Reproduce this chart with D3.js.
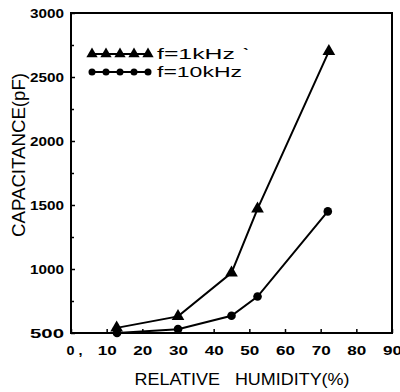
<!DOCTYPE html>
<html>
<head>
<meta charset="utf-8">
<script src="https://cdn.jsdelivr.net/npm/d3@7"></script>
<style>
  body { margin: 0; background: #fff; }
  svg { display: block; }
  text { font-family: "Liberation Sans", Arial, sans-serif; fill: #000; }
</style>
</head>
<body>
<div id="chart"></div>
<script>
// data
let humidity1k = [12.8, 30.0, 45.0, 52.3, 72.3];
let cap1k = [540, 630, 970, 1470, 2700];
let humidity10k = [12.9, 30.0, 45.0, 52.3, 72.0];
let cap10k = [500, 530, 635, 785, 1450];
let seriesNames = ["f=1kHz \u02cb", "f=10kHz"];
let xTicks = [0, 10, 20, 30, 40, 50, 60, 70, 80, 90];
let xTickLabels = ["0 ,", "10", "20", "30", "40", "50", "60", "70", "80", "90"];
let yTicks = [500, 1000, 1500, 2000, 2500, 3000];
let yMinorTicks = [750, 1250, 1750, 2250, 2750];

let svgWidth = 400;
let svgHeight = 392;

// plot area box
let margin = { top: 13, right: 8, bottom: 59, left: 71 };
let chartWidth = svgWidth - margin.left - margin.right;
let chartHeight = svgHeight - margin.top - margin.bottom;

let svg = d3.select("#chart")
    .append("svg")
    .attr("width", svgWidth)
    .attr("height", svgHeight);

let chartGroup = svg.append("g")
    .attr("transform", `translate(${margin.left}, ${margin.top})`);

let xScale = d3.scaleLinear().domain([0, 90]).range([0, chartWidth]);
let yScale = d3.scaleLinear().domain([500, 3000]).range([chartHeight, 0]);

// ticks point inward
let bottomAxis = d3.axisBottom(xScale)
    .tickValues(xTicks)
    .tickSizeInner(-4)
    .tickSizeOuter(0)
    .tickPadding(10)
    .tickFormat((d, i) => xTickLabels[i]);

let leftAxis = d3.axisLeft(yScale)
    .tickValues(yTicks)
    .tickSizeInner(-4)
    .tickSizeOuter(0)
    .tickPadding(7)
    .tickFormat(d3.format("d"));

let xAxis = chartGroup.append("g")
    .attr("transform", `translate(0, ${chartHeight})`)
    .call(bottomAxis);

let yAxis = chartGroup.append("g").call(leftAxis);

chartGroup.append("g")
    .call(d3.axisLeft(yScale).tickValues(yMinorTicks).tickSizeInner(-3).tickSizeOuter(0).tickFormat(""))
    .select(".domain").remove();

[xAxis, yAxis].forEach(a => {
    a.select(".domain").remove();
    a.selectAll("text")
        .style("font-size", "13px")
        .style("font-weight", "bold")
        .attr("fill", "#000");
});
chartGroup.selectAll("line").attr("stroke", "#000").attr("stroke-width", 1.5);

xAxis.selectAll("text")
    .attr("textLength", (d, i) => i === 0 ? 16 : 19)
    .attr("lengthAdjust", "spacingAndGlyphs")
    .attr("text-anchor", (d, i) => i === 0 ? "start" : "middle")
    .attr("x", (d, i) => i === 0 ? -5 : 0)
    .attr("dy", "0.9em");

yAxis.selectAll("text")
    .attr("textLength", 34)
    .attr("lengthAdjust", "spacingAndGlyphs");

// frame
chartGroup.append("rect")
    .attr("width", chartWidth)
    .attr("height", chartHeight)
    .attr("fill", "none")
    .attr("stroke", "#000")
    .attr("stroke-width", 2);

let line = d3.line()
    .x(d => xScale(d[0]))
    .y(d => yScale(d[1]));

let data1k = humidity1k.map((h, i) => [h, cap1k[i]]);
let data10k = humidity10k.map((h, i) => [h, cap10k[i]]);

chartGroup.append("path")
    .datum(data1k)
    .attr("d", line)
    .attr("fill", "none")
    .attr("stroke", "#000")
    .attr("stroke-width", 2);

chartGroup.append("path")
    .datum(data10k)
    .attr("d", line)
    .attr("fill", "none")
    .attr("stroke", "#000")
    .attr("stroke-width", 2);

let triangle = d3.symbol().type(d3.symbolTriangle).size(70);

chartGroup.selectAll(".tri")
    .data(data1k)
    .enter()
    .append("path")
    .attr("class", "tri")
    .attr("d", triangle)
    .attr("transform", d => `translate(${xScale(d[0])}, ${yScale(d[1])})`)
    .attr("fill", "#000");

chartGroup.selectAll(".dot")
    .data(data10k)
    .enter()
    .append("circle")
    .attr("class", "dot")
    .attr("cx", d => xScale(d[0]))
    .attr("cy", d => yScale(d[1]))
    .attr("r", 4.3)
    .attr("fill", "#000");

// legend
let legend = svg.append("g");
let legendX = [92, 106, 120, 134, 148];

legend.append("line")
    .attr("x1", 92).attr("x2", 148).attr("y1", 54).attr("y2", 54)
    .attr("stroke", "#000").attr("stroke-width", 2);
legend.selectAll(".ltri")
    .data(legendX)
    .enter()
    .append("path")
    .attr("d", d3.symbol().type(d3.symbolTriangle).size(55))
    .attr("transform", d => `translate(${d}, 54)`)
    .attr("fill", "#000");

legend.append("line")
    .attr("x1", 92).attr("x2", 148).attr("y1", 72).attr("y2", 72)
    .attr("stroke", "#000").attr("stroke-width", 2);
legend.selectAll(".ldot")
    .data(legendX)
    .enter()
    .append("circle")
    .attr("cx", d => d)
    .attr("cy", 72)
    .attr("r", 3.5)
    .attr("fill", "#000");

legend.append("text")
    .attr("x", 157).attr("y", 59)
    .attr("font-size", "14px")
    .attr("textLength", 93)
    .attr("lengthAdjust", "spacingAndGlyphs")
    .text(seriesNames[0]);

legend.append("text")
    .attr("x", 157).attr("y", 77)
    .attr("font-size", "14px")
    .attr("textLength", 85)
    .attr("lengthAdjust", "spacingAndGlyphs")
    .text(seriesNames[1]);

// axis titles
svg.append("text")
    .attr("x", 242)
    .attr("y", 385)
    .attr("text-anchor", "middle")
    .attr("font-size", "17px")
    .style("white-space", "pre")
    .attr("textLength", 215)
    .attr("lengthAdjust", "spacingAndGlyphs")
    .text("RELATIVE   HUMIDITY(%)");

svg.append("text")
    .attr("transform", "translate(25, 155) rotate(-90)")
    .attr("text-anchor", "middle")
    .attr("font-size", "18px")
    .attr("textLength", 164)
    .attr("lengthAdjust", "spacingAndGlyphs")
    .text("CAPACITANCE(pF)");
</script>
</body>
</html>
